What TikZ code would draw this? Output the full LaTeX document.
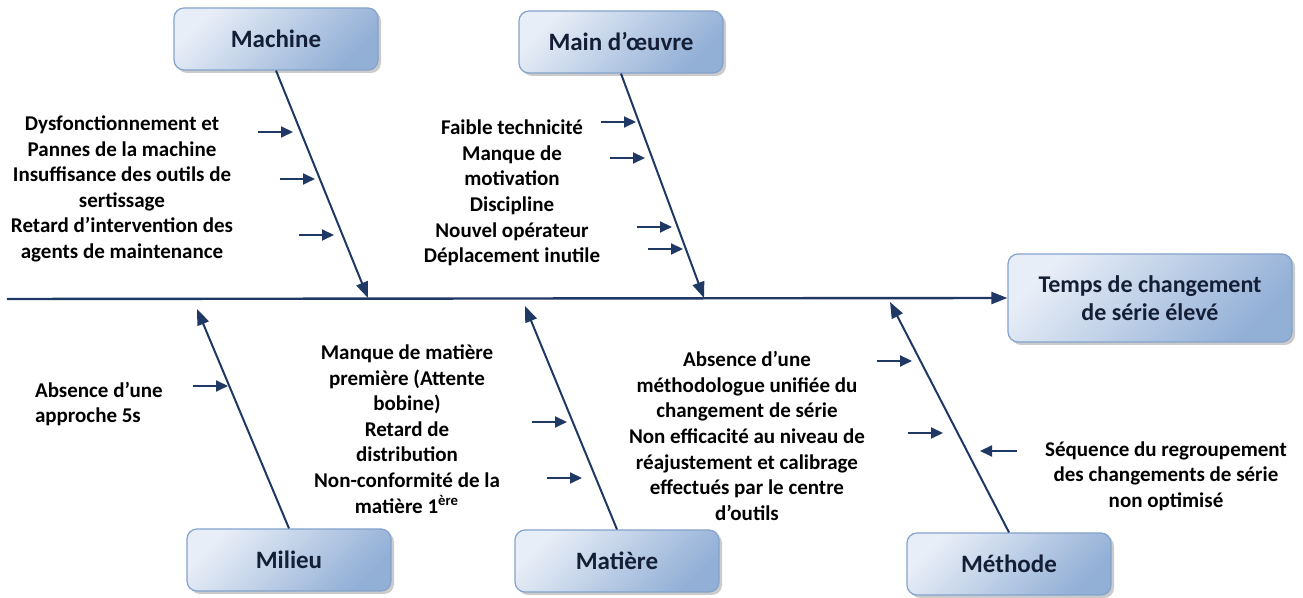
\documentclass[tikz,border=0pt]{standalone}
\usepackage{fontspec}
\setmainfont{Carlito}
\usetikzlibrary{arrows.meta,shadows}
\definecolor{bonecol}{RGB}{31,56,100}
\definecolor{boxtop}{RGB}{232,238,247}
\definecolor{boxbot}{RGB}{146,175,214}
\definecolor{boxedge}{RGB}{132,163,204}
\definecolor{boxtext}{RGB}{20,31,54}
\tikzset{
catbox/.style={draw=boxedge,line width=0.6pt,rounded corners=5pt,top color=boxtop,bottom color=boxbot,shading angle=45,
drop shadow={shadow xshift=1.5pt,shadow yshift=-1.5pt,opacity=0.45,fill=black!45},
minimum width=102pt,minimum height=31pt,text=boxtext,font=\fontsize{12.5}{14}\selectfont\bfseries,align=center},
causetext/.style={align=center,font=\fontsize{10.5}{12.8}\selectfont\bfseries},
bone/.style={draw=bonecol,line width=1pt,-{Triangle[length=8pt,width=6pt]}},
smallarr/.style={draw=bonecol,line width=1pt,-{Triangle[length=6pt,width=5.5pt]}}
}
\begin{document}
\begin{tikzpicture}[x=0.5pt,y=-0.5pt]
\useasboundingbox (0,0) rectangle (1303,598);
\node[catbox] (mach) at (276,39) {Machine};
\node[catbox] (mdo) at (621,42) {Main d’œuvre};
\node[catbox] (mil) at (289,560) {Milieu};
\node[catbox] (mat) at (617,561) {Matière};
\node[catbox] (meth) at (1009,564) {Méthode};
\node[catbox,minimum width=142pt,minimum height=44pt,font=\fontsize{12}{14}\selectfont\bfseries] (effect) at (1150,298) {Temps de changement\\de série élevé};
\coordinate (tail) at (7,299);
\draw[bonecol,line width=1.2pt,-{Triangle[length=8pt,width=6pt]}] (tail) -- (effect.west);
\coordinate (machtip) at (368,298);
\coordinate (mdotip) at (704,298);
\coordinate (miltip) at (197,309);
\coordinate (mattip) at (525,306);
\coordinate (methtip) at (890,302);
\draw[bone] (mach.south) -- (machtip);
\draw[bone] (mdo.south) -- (mdotip);
\draw[bone] (mil.north) -- (miltip);
\draw[bone] (mat.north) -- (mattip);
\draw[bone] (meth.north) -- (methtip);
\node[causetext] (machc) at (122,189) {Dysfonctionnement et\\Pannes de la machine\\Insuffisance des outils de\\sertissage\\Retard d’intervention des\\agents de maintenance};
\node[causetext] (mdoc) at (512,193) {Faible technicité\\Manque de\\motivation\\Discipline\\Nouvel opérateur\\Déplacement inutile};
\node[causetext,align=left,anchor=west] (milc) at (28,404) {Absence d’une\\approche 5s};
\node[causetext] (matc) at (407,429) {Manque de matière\\première (Attente\\bobine)\\Retard de\\distribution\\Non-conformité de la\\matière 1\textsuperscript{ère}};
\node[causetext] (methc) at (747,436) {Absence d’une\\méthodologue unifiée du\\changement de série\\Non efficacité au niveau de\\réajustement et calibrage\\effectués par le centre\\d’outils};
\node[causetext] (seqc) at (1166,476) {Séquence du regroupement\\des changements de série\\non optimisé};
\foreach \x/\y [count=\i] in {258/132,280/179,299/235,601/122,610/158,637/227,648/249,193/386,532/422,547/478,877/361,908/433}
{\coordinate (a\i) at (\x,\y); \coordinate (b\i) at (\x+35,\y); \draw[smallarr] (a\i) -- (b\i);}
\coordinate (seqa) at (1017,451);
\coordinate (seqb) at (980,451);
\draw[smallarr] (seqa) -- (seqb);
\end{tikzpicture}
\end{document}
